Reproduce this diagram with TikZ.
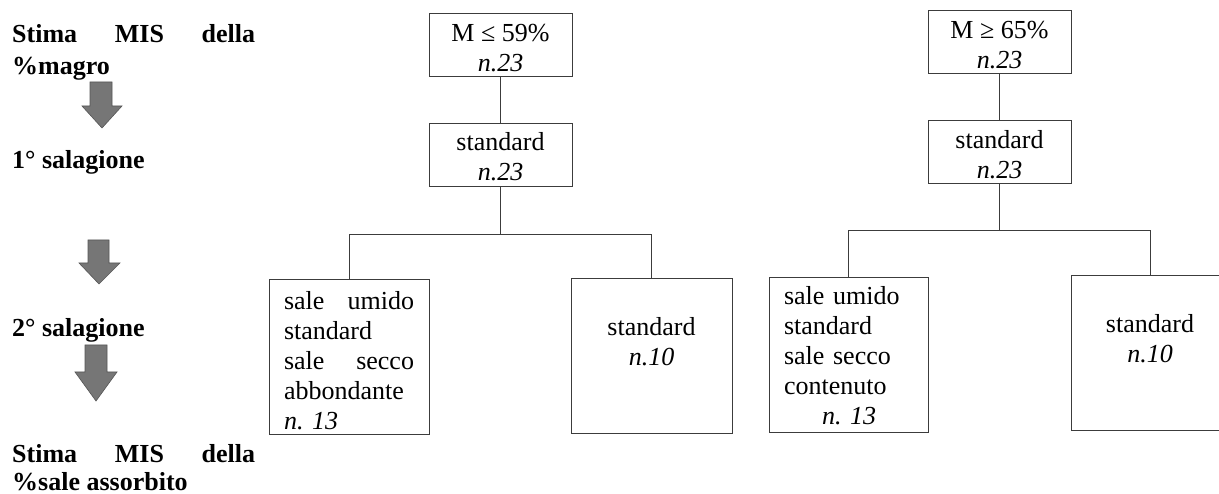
\documentclass[tikz,border=0pt]{standalone}
\usepackage{fontspec}
\setmainfont{Liberation Serif}
\definecolor{linec}{RGB}{60,60,60}
\definecolor{arrfill}{RGB}{118,118,118}
\definecolor{arredge}{RGB}{85,85,85}
\begin{document}
\begin{tikzpicture}[x=1pt,y=-1pt,
  every node/.style={font=\fontsize{26}{30}\selectfont},
  lab/.style={anchor=base west,inner sep=0pt,font=\fontsize{26}{30}\selectfont\bfseries},
  topbox/.style={draw=linec,line width=0.9pt,minimum width=143pt,minimum height=63pt,inner sep=0pt},
  leafbox/.style={draw=linec,line width=0.9pt,minimum height=155pt,inner sep=0pt},
  boxtext/.style={inner sep=0pt,align=center},
  leaftext/.style={inner sep=0pt,align=left},
  conn/.style={draw=linec,line width=0.9pt},
  bigarrow/.style={fill=arrfill,draw=arredge,line width=0.6pt,line join=miter}
]
\clip (0,0) rectangle (1219,494);
\fill[white] (0,0) rectangle (1219,494);

% left labels
\node[lab] (s1a) at (12,43) {\makebox[243pt]{Stima\hfill MIS\hfill della}};
\node[lab] (s1b) at (12,75) {\%magro};
\node[lab] (s2) at (12,169) {1° salagione};
\node[lab] (s3) at (12,337) {2° salagione};
\node[lab] (s4a) at (12,462) {\makebox[243pt]{Stima\hfill MIS\hfill della}};
\node[lab] (s4b) at (12,490) {\%sale assorbito};

% block arrows
\draw[bigarrow] (90,82) -- (112,82) -- (112,106) -- (122,106) -- (102,128) -- (82,106) -- (90,106) -- cycle;
\draw[bigarrow] (88,240) -- (109,240) -- (109,263) -- (120,263) -- (99,284) -- (79,263) -- (88,263) -- cycle;
\draw[bigarrow] (85,345) -- (107,345) -- (107,372) -- (117,372) -- (96,401) -- (75,372) -- (85,372) -- cycle;

% left tree boxes
\node[topbox] (lt1) at (500.5,45) {};
\node[topbox] (lt2) at (500.5,154.5) {};
\node[leafbox,minimum width=160pt] (ll) at (349,357) {};
\node[leafbox,minimum width=161pt] (lr) at (651.5,355.5) {};
\coordinate (lj) at (500.5,234);

% right tree boxes
\node[topbox] (rt1) at (999.5,41.5) {};
\node[topbox] (rt2) at (999.5,151.5) {};
\node[leafbox,minimum width=159pt] (rl) at (848.5,355) {};
\node[leafbox,minimum width=158pt] (rr) at (1150,352.5) {};
\coordinate (rj) at (999.5,230);

% texts
\node[boxtext] (lt1t) at ([yshift=-3pt]lt1.center) {M ≤ 59\%\\\textit{n.23}};
\node[boxtext] (lt2t) at ([yshift=-2pt]lt2.center) {standard\\\textit{n.23}};
\node[leaftext,text width=130pt] (llt) at ([yshift=-3.5pt]ll.center)
  {\makebox[130pt]{sale\hfill umido}\\standard\\\makebox[130pt]{sale\hfill secco}\\abbondante\\\textit{n.\ 13}};
\node[boxtext] (lrt) at ([yshift=14pt]lr.center) {standard\\\textit{n.10}};
\node[boxtext] (rt1t) at ([yshift=-4pt]rt1.center) {M ≥ 65\%\\\textit{n.23}};
\node[boxtext] (rt2t) at ([yshift=-3pt]rt2.center) {standard\\\textit{n.23}};
\node[leaftext,text width=129pt] (rlt) at ([yshift=-1pt]rl.center)
  {sale umido\\standard\\sale secco\\contenuto\\\hspace*{38pt}\textit{n.\ 13}};
\node[boxtext] (rrt) at ([yshift=14pt]rr.center) {standard\\\textit{n.10}};

% connectors
\draw[conn] (lt1) -- (lt2);
\draw[conn] (lt2.south) -- (lj);
\draw[conn] (ll.north) -- (ll.north |- lj) -- (lr.north |- lj) -- (lr.north);
\draw[conn] (rt1) -- (rt2);
\draw[conn] (rt2.south) -- (rj);
\draw[conn] (rl.north) -- (rl.north |- rj) -- (rr.north |- rj) -- (rr.north);
\end{tikzpicture}
\end{document}
